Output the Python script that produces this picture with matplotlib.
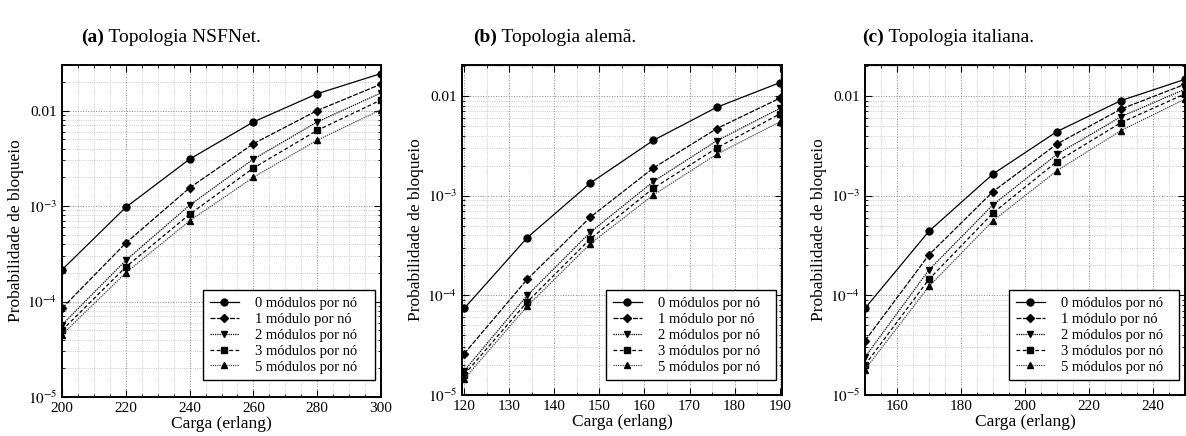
import math
import matplotlib
matplotlib.use("Agg")
from matplotlib import pyplot as plt
from matplotlib.ticker import LogLocator, FuncFormatter, MultipleLocator, NullFormatter

plt.rcParams['font.family'] = ['Liberation Serif', 'DejaVu Serif']
plt.rcParams['mathtext.fontset'] = 'stix'

labels = ["0 módulos por nó", "1 módulo por nó", "2 módulos por nó",
          "3 módulos por nó", "5 módulos por nó"]

# (a) NSFNet
x_nsf = [200, 220, 240, 260, 280, 300]
nsf_0 = [2.15e-4, 9.7e-4, 3.1e-3, 7.6e-3, 0.015, 0.0244]
nsf_1 = [8.5e-5, 4.1e-4, 1.55e-3, 4.5e-3, 0.010, 0.0189]
nsf_2 = [5.7e-5, 2.7e-4, 1.02e-3, 3.1e-3, 7.6e-3, 0.0153]
nsf_3 = [5.0e-5, 2.3e-4, 8.2e-4, 2.5e-3, 6.2e-3, 0.0129]
nsf_5 = [4.5e-5, 2.0e-4, 7.0e-4, 2.0e-3, 4.9e-3, 0.0102]

# (b) alemã
x_ger = [120, 134, 148, 162, 176, 190]
ger_0 = [7.4e-5, 3.8e-4, 1.34e-3, 3.6e-3, 7.7e-3, 0.0136]
ger_1 = [2.6e-5, 1.45e-4, 6.1e-4, 1.9e-3, 4.7e-3, 9.5e-3]
ger_2 = [1.75e-5, 1.0e-4, 4.3e-4, 1.39e-3, 3.55e-3, 7.5e-3]
ger_3 = [1.6e-5, 8.6e-5, 3.7e-4, 1.19e-3, 3.0e-3, 6.6e-3]
ger_5 = [1.45e-5, 7.8e-5, 3.3e-4, 1.02e-3, 2.6e-3, 5.5e-3]

# (c) italiana
x_ita = [150, 170, 190, 210, 230, 250]
ita_0 = [7.4e-5, 4.4e-4, 1.65e-3, 4.4e-3, 9.0e-3, 0.0147]
ita_1 = [3.5e-5, 2.55e-4, 1.1e-3, 3.3e-3, 7.4e-3, 0.0131]
ita_2 = [2.4e-5, 1.8e-4, 8.1e-4, 2.6e-3, 6.2e-3, 0.0117]
ita_3 = [2.0e-5, 1.45e-4, 6.7e-4, 2.2e-3, 5.4e-3, 0.0105]
ita_5 = [1.8e-5, 1.23e-4, 5.6e-4, 1.78e-3, 4.5e-3, 9.3e-3]

styles = [
    dict(linestyle='-', marker='o', color='black', ms=5),
    dict(linestyle=(0, (4, 1.2)), marker='D', color='black', ms=4.3),
    dict(linestyle=(0, (1, 0.8)), marker='v', color='black', ms=5),
    dict(linestyle=(0, (3, 2)), marker='s', color='black', ms=4.6),
    dict(linestyle=(0, (1, 0.8)), marker='^', color='#444444', ms=5),
]


def yfmt(v, pos):
    if abs(v - 0.01) < 1e-9:
        return "0.01"
    return r"$10^{%d}$" % int(round(math.log10(v)))


def make_panel(rect, xs, series, xlim, xmajor, ylim, leg_box, title, title_x):
    ax = fig.add_axes(rect)
    for ys, st, lab in zip(series, styles, labels):
        ax.plot(xs, ys, label=lab, linestyle=st['linestyle'], color=st['color'],
                lw=0.9, marker=st['marker'], markersize=st['ms'],
                markerfacecolor='black', markeredgecolor='black')
    ax.set_yscale('log')
    ax.set_xlim(*xlim)
    ax.set_ylim(*ylim)
    ax.xaxis.set_major_locator(MultipleLocator(xmajor))
    ax.xaxis.set_minor_locator(MultipleLocator(5))
    ax.yaxis.set_major_locator(LogLocator(base=10, numticks=10))
    ax.yaxis.set_minor_locator(LogLocator(base=10, subs=range(2, 10), numticks=20))
    ax.yaxis.set_major_formatter(FuncFormatter(yfmt))
    ax.yaxis.set_minor_formatter(NullFormatter())
    ax.grid(True, which='major', linestyle=':', color='#888888', lw=0.7)
    ax.grid(True, which='minor', linestyle=':', color='#aaaaaa', lw=0.5)
    ax.tick_params(which='both', direction='in', top=True, right=True, labelsize=11)
    ax.tick_params(which='major', length=5, width=0.8)
    ax.tick_params(which='minor', length=2.5, width=0.6)
    for sp in ax.spines.values():
        sp.set_linewidth(1.4)
    ax.set_xlabel("Carga (erlang)", fontsize=12.5, labelpad=1)
    ax.set_ylabel("Probabilidade de bloqueio", fontsize=12.5, labelpad=2)
    leg = ax.legend(loc='lower left', bbox_to_anchor=leg_box, mode='expand',
                    borderaxespad=0, fontsize=10.5, fancybox=False,
                    edgecolor='black', framealpha=1, handlelength=2.0,
                    handletextpad=1.1, labelspacing=0.18, borderpad=0.45)
    leg.get_frame().set_linewidth(1.0)
    fig.text(title_x, 0.915, title[0], fontsize=14, fontweight='bold',
             ha='right', va='center')
    fig.text(title_x, 0.915, " " + title[1], fontsize=14, ha='left', va='center')
    return ax


fig = plt.figure(figsize=(11.86, 4.36), dpi=100)

make_panel([0.0523, 0.0894, 0.269, 0.7616], x_nsf,
           [nsf_0, nsf_1, nsf_2, nsf_3, nsf_5], (200, 300), 20, (1e-5, 0.030),
           (0.442, 0.051, 0.539, 0.27),
           ("(a)", "Topologia NSFNet."), 0.088)
make_panel([0.3895, 0.094, 0.2698, 0.757], x_ger,
           [ger_0, ger_1, ger_2, ger_3, ger_5], (119.5, 190.5), 10, (1e-5, 0.0205),
           (0.45, 0.045, 0.531, 0.27),
           ("(b)", "Topologia alemã."), 0.419)
make_panel([0.7293, 0.094, 0.2698, 0.757], x_ita,
           [ita_0, ita_1, ita_2, ita_3, ita_5], (150, 250), 20, (1e-5, 0.0205),
           (0.45, 0.045, 0.531, 0.27),
           ("(c)", "Topologia italiana."), 0.745)

fig.savefig("out.png", dpi=100)
